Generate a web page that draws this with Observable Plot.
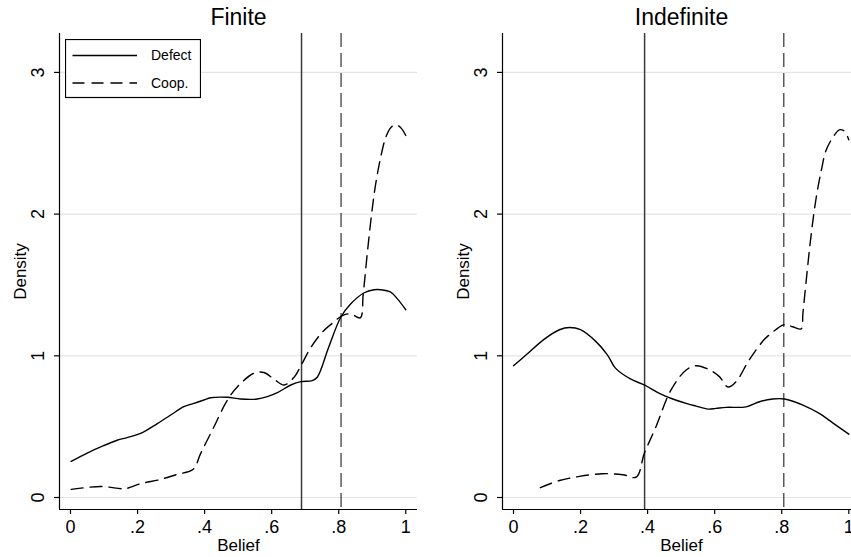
<!DOCTYPE html>
<html>
<head>
<meta charset="utf-8">
<script src="https://cdn.jsdelivr.net/npm/d3@7"></script>
<script src="https://cdn.jsdelivr.net/npm/@observablehq/plot@0.6"></script>
<style>
  body { margin: 0; background: #fff; }
  #chart { position: relative; width: 851px; height: 557px; overflow: hidden;
           font-family: "Liberation Sans", Arial, Helvetica, sans-serif; }
  #chart > svg.panel { position: absolute; top: 0; }
</style>
</head>
<body>
<div id="chart"></div>
<script>
// Kernel density of beliefs, by chosen action, for each game horizon.
// Each series: [belief, density] pairs.
const finiteDefect = [
  [0.002,0.255],[0.05,0.314],[0.09,0.357],[0.139,0.404],[0.169,0.423],[0.209,0.452],
  [0.259,0.522],[0.299,0.582],[0.338,0.641],[0.368,0.664],[0.398,0.688],[0.418,0.704],
  [0.468,0.707],[0.507,0.695],[0.557,0.695],[0.587,0.712],[0.617,0.74],[0.657,0.794],
  [0.687,0.818],[0.721,0.825],[0.736,0.849],[0.77,1.06],[0.806,1.272],[0.836,1.367],
  [0.876,1.445],[0.905,1.466],[0.925,1.466],[0.955,1.449],[0.975,1.402],[1.0,1.325]
];
const finiteCoop = [
  [0.002,0.057],[0.09,0.078],[0.159,0.061],[0.174,0.069],[0.209,0.097],[0.269,0.128],
  [0.318,0.163],[0.366,0.199],[0.388,0.31],[0.428,0.499],[0.468,0.688],[0.5,0.787],
  [0.547,0.877],[0.577,0.882],[0.607,0.835],[0.637,0.794],[0.667,0.849],[0.687,0.929],
  [0.716,1.056],[0.751,1.167],[0.781,1.23],[0.811,1.284],[0.836,1.296],[0.864,1.268],
  [0.873,1.437],[0.886,1.743],[0.898,2.0],[0.91,2.21],[0.925,2.4],[0.94,2.54],
  [0.955,2.61],[0.97,2.63],[0.985,2.61],[1.0,2.555]
];
const indefDefect = [
  [0,0.93],[0.038,1.007],[0.092,1.118],[0.137,1.184],[0.167,1.2],[0.2,1.184],
  [0.246,1.1],[0.28,1.007],[0.304,0.913],[0.35,0.835],[0.39,0.794],[0.435,0.735],
  [0.475,0.695],[0.515,0.664],[0.545,0.645],[0.58,0.624],[0.604,0.629],[0.634,0.636],
  [0.694,0.64],[0.734,0.676],[0.773,0.695],[0.808,0.695],[0.863,0.652],[0.912,0.593],
  [0.952,0.527],[1.0,0.447]
];
const indefCoop = [
  [0.08,0.069],[0.137,0.12],[0.197,0.149],[0.266,0.168],[0.326,0.161],[0.366,0.144],
  [0.39,0.31],[0.425,0.5],[0.47,0.76],[0.515,0.9],[0.545,0.93],[0.585,0.9],
  [0.614,0.853],[0.64,0.78],[0.664,0.818],[0.7,0.96],[0.72,1.03],[0.75,1.12],
  [0.78,1.18],[0.808,1.221],[0.833,1.205],[0.858,1.19],[0.863,1.296],[0.873,1.531],
  [0.888,1.861],[0.903,2.119],[0.918,2.308],[0.932,2.449],[0.953,2.543],[0.972,2.595],
  [0.987,2.585],[1.0,2.524]
];

// Mean belief of each group (reference lines)
const finiteMeans = { defect: 0.689, coop: 0.807 };
const indefMeans  = { defect: 0.391, coop: 0.806 };

const panelTitles = ["Finite", "Indefinite"];
const seriesNames = ["Defect", "Coop."];
const xTicks = [0, 0.2, 0.4, 0.6, 0.8, 1];
const yTicks = [0, 1, 2, 3];
const xLabel = "Belief";
const yLabel = "Density";

const xDomain = [-0.0328, 1.0349];
const yDomain = [-0.0847, 3.2746];
const font = "Liberation Sans, Arial, Helvetica, sans-serif";
const curveDash = "12,7";
const refDash = "14,6";

const fmtX = d => d === 0 ? "0" : d === 1 ? "1" : d3.format(".1f")(d).replace(/^0/, "");

function panel({ title, defect, coop, means, marginLeft }) {
  const plotW = 357.7;
  const svg = Plot.plot({
    width: Math.round(marginLeft + plotW + 8),
    height: 557,
    marginLeft, marginRight: 8, marginTop: 33, marginBottom: 48,
    style: { fontFamily: font, fontSize: "18px", background: "transparent", color: "#000" },
    x: { domain: xDomain },
    y: { domain: yDomain },
    marks: [
      Plot.gridY(yTicks, { stroke: "#e5e5e5", strokeOpacity: 1, strokeWidth: 1.2 }),
      Plot.ruleX([xDomain[0]], { stroke: "#000", strokeWidth: 1.2 }),
      Plot.ruleY([yDomain[0]], { stroke: "#000", strokeWidth: 1.2 }),
      Plot.axisX({ ticks: xTicks, tickSize: 5, tickPadding: 6, tickFormat: fmtX,
                   label: null, fontSize: 18, strokeWidth: 1.2 }),
      Plot.axisY({ ticks: yTicks, tickSize: 5, tickFormat: () => "", label: null, strokeWidth: 1.2 }),
      Plot.text(yTicks, { y: d => d, text: d => String(d), frameAnchor: "left", dx: -21,
                          rotate: -90, fontSize: 18, textAnchor: "middle", lineAnchor: "middle" }),
      Plot.ruleX([means.defect], { stroke: "#3a3a3a", strokeWidth: 1.5 }),
      Plot.ruleX([means.coop], { stroke: "#5a5a5a", strokeWidth: 1.5, strokeDasharray: refDash }),
      Plot.line(defect, { x: d => d[0], y: d => d[1], curve: "catmull-rom",
                          stroke: "#000", strokeWidth: 1.4 }),
      Plot.line(coop, { x: d => d[0], y: d => d[1], curve: "catmull-rom",
                        stroke: "#000", strokeWidth: 1.4, strokeDasharray: curveDash }),
      Plot.text([title], { frameAnchor: "top", dy: -16, fontSize: 23, lineAnchor: "middle" }),
      Plot.text([xLabel], { frameAnchor: "bottom", dy: 36, fontSize: 17, lineAnchor: "middle" }),
      Plot.text([yLabel], { frameAnchor: "left", dx: -39, rotate: -90, fontSize: 17,
                            lineAnchor: "middle", textAnchor: "middle" })
    ]
  });
  svg.classList.add("panel");
  return svg;
}

const chart = document.getElementById("chart");

const left = panel({ title: panelTitles[0], defect: finiteDefect, coop: finiteCoop,
                     means: finiteMeans, marginLeft: 59 });
left.style.left = "0px";
chart.appendChild(left);

const right = panel({ title: panelTitles[1], defect: indefDefect, coop: indefCoop,
                      means: indefMeans, marginLeft: 77 });
right.style.left = "425px";
chart.appendChild(right);

// Legend box (upper-left of the first panel)
const legend = d3.create("svg")
  .attr("width", 136).attr("height", 60)
  .style("position", "absolute").style("left", "65px").style("top", "39px")
  .style("font-family", font);
legend.append("rect")
  .attr("x", 0.5).attr("y", 0.5).attr("width", 135).attr("height", 58)
  .attr("fill", "#fff").attr("stroke", "#000").attr("stroke-width", 1.2);
const rows = legend.selectAll("g").data(seriesNames).join("g")
  .attr("transform", (d, i) => `translate(0,${16.5 + i * 27.5})`);
rows.append("line")
  .attr("x1", 7.5).attr("x2", 72)
  .attr("stroke", "#000").attr("stroke-width", 1.4)
  .attr("stroke-dasharray", (d, i) => i === 0 ? null : curveDash);
rows.append("text")
  .attr("x", 86).attr("dy", "0.35em")
  .attr("font-size", 14)
  .text(d => d);
chart.appendChild(legend.node());
</script>
</body>
</html>
